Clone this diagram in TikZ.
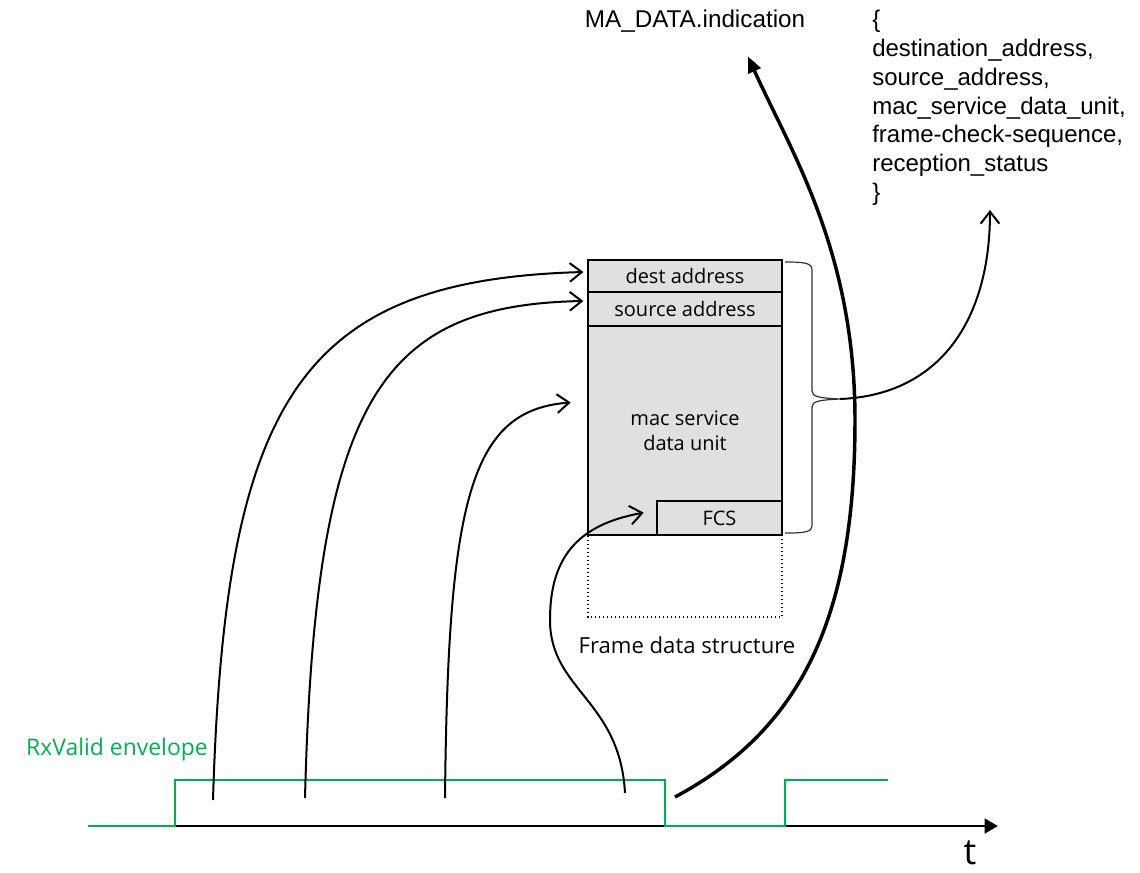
\documentclass[tikz,border=0pt]{standalone}
\usepackage{fontspec}
\setmainfont{Open Sans}
\newfontfamily\arialf{Liberation Sans}
\usetikzlibrary{arrows.meta}
\definecolor{envgreen}{RGB}{0,176,80}
\definecolor{fieldgray}{RGB}{224,224,224}
\tikzset{
  field/.style={draw=black, line width=1.9pt, fill=fieldgray, inner sep=0pt, font=\fontsize{15}{17}\selectfont},
  flow/.style={line width=1.5pt, -{Straight Barb[length=9pt,width=14pt]}},
  bigflow/.style={line width=2.6pt, -{Triangle[length=12pt,width=10pt]}},
  env/.style={envgreen, line width=2pt},
  plain/.style={inner sep=0pt}
}
\begin{document}
\begin{tikzpicture}[x=0.75pt,y=-0.75pt]
\useasboundingbox (0,0) rectangle (1140,872);
% dotted outline of the frame data structure
\draw[dotted, line width=1pt] (588,260) rectangle (782,617);
% fields
\node[field, minimum width=145.5pt, minimum height=24pt] (dest) at (685,276) {dest address};
\node[field, minimum width=145.5pt, minimum height=25.5pt] (src) at (685,309) {source address};
\node[field, minimum width=145.5pt, minimum height=156.75pt] (msdu) at (685,430.5) {};
\node[font=\fontsize{15}{18.5}\selectfont, align=center] (msdutext) at (685,431) {mac service\\data unit};
\node[field, minimum width=93.75pt, minimum height=25.5pt] (fcs) at (719.5,518) {FCS};
\node[plain, font=\fontsize{16.6}{19}\selectfont] (fdslabel) at (687,645) {Frame data structure};
% brace
\draw[line width=0.9pt, black!80] (785,262) .. controls (805,262) and (812,263) .. (812,270) -- (812,391)
  .. controls (812,397) and (820,398) .. (840,399) coordinate (bracetip)
  .. controls (820,400) and (812,401) .. (812,407) -- (812,526) .. controls (812,532) and (805,533) .. (785,533);
% primitive and parameters
\node[plain, font=\arialf\fontsize{18.2}{21.6}\selectfont] (ind) at (695,21) {MA\_DATA.indication};
\node[plain, anchor=north west, align=left, font=\arialf\fontsize{18}{21.6}\selectfont] (params) at (872,10)
  {\{\\destination\_address,\\source\_address,\\mac\_service\_data\_unit,\\frame-check-sequence,\\reception\_status\\\}};
% time axis and envelope
\coordinate (axstart) at (88,826);
\coordinate (axend) at (998,826);
\draw[line width=2pt, -{Triangle[length=10pt,width=11pt]}] (axstart) -- (axend);
\node[plain, anchor=base, font=\fontsize{27}{30}\selectfont] (tlabel) at (970,864) {t};
\draw[env] (axstart) -- (175,826) -- (175,780) -- (665,780) -- (665,826) -- (785,826) -- (785,780) -- (888,780);
\node[plain, envgreen, font=\fontsize{17.2}{19}\selectfont] (rxlabel) at (117,750) {RxValid envelope};
% sample points on the envelope
\coordinate (s1) at (213,800);
\coordinate (s2) at (305,798);
\coordinate (s3) at (445,798);
\coordinate (s4) at (625,793);
\coordinate (s5) at (675,797);
% connectors
\draw[flow] (s1) .. controls (225,400) and (300,280) .. ([xshift=-2.5pt,yshift=3pt]dest.west);
\draw[flow] (s2) .. controls (315,400) and (380,305) .. ([xshift=-2.5pt,yshift=6pt]src.west);
\draw[flow] (s3) .. controls (448,500) and (470,410) .. ([xshift=-12pt,yshift=21pt]msdu.west);
\draw[flow] (s4) .. controls (620,700) and (550,690) .. (550,620) .. controls (550,560) and (575,525) .. ([xshift=-9pt,yshift=4pt]fcs.west);
\draw[bigflow] (s5) .. controls (800,730) and (855,620) .. (855,420) .. controls (855,250) and (790,150) .. ([xshift=39.75pt,yshift=-18pt]ind.south);
\draw[flow] (bracetip) .. controls (940,395) and (990,320) .. (990,210);
\end{tikzpicture}
\end{document}
